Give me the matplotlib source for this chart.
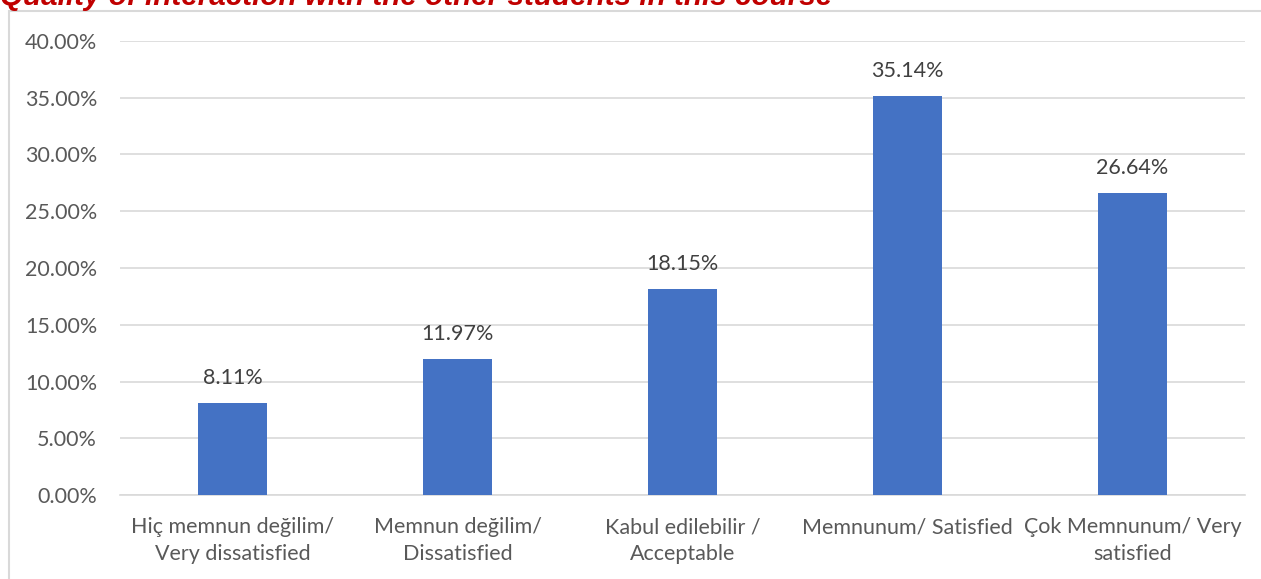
import matplotlib.pyplot as plt
from matplotlib.patches import Rectangle
from matplotlib.ticker import FuncFormatter

categories = ["Hiç memnun değilim/\nVery dissatisfied",
              "Memnun değilim/\nDissatisfied",
              "Kabul edilebilir /\nAcceptable",
              "Memnunum/ Satisfied",
              "Çok Memnunum/ Very\nsatisfied"]
values = [8.11, 11.97, 18.15, 35.14, 26.64]
title = "Quality of interaction with the other students in this course"

plt.rcParams['font.family'] = ['Lato', 'DejaVu Sans']

fig = plt.figure(figsize=(12.61, 5.79), dpi=100)
W, H = 1261, 579

# outer chart frame, cropped at bottom and right
fig.patches.append(Rectangle((9 / W, -0.1), 1.2, 1.1 - 11 / H, transform=fig.transFigure,
                             fill=False, edgecolor='#d9d9d9', linewidth=1.5))

ax = fig.add_axes([120 / W, 1 - 495 / H, 1125 / W, 454 / H])
x = range(len(categories))
ax.bar(x, values, width=0.31, color='#4472c4', zorder=3)
for i, v in enumerate(values):
    ax.text(i, v + 1.67, f"{v:.2f}%", ha='center', va='baseline', fontsize=15.5, color='#404040')

ax.set_xlim(-0.5, len(categories) - 0.5)
ax.set_ylim(0, 40)
ax.set_yticks(range(0, 41, 5))
ax.yaxis.set_major_formatter(FuncFormatter(lambda v, p: f"{v:.2f}%"))
ax.set_xticks(list(x))
ax.set_xticklabels(categories, fontsize=15.5, color='#595959', linespacing=1.45)
ax.tick_params(axis='y', labelsize=15.5, labelcolor='#595959', length=0, pad=16.5)
ax.tick_params(axis='x', length=0, pad=16)
ax.grid(axis='y', color='#d9d9d9', linewidth=1.2, zorder=0)
for s in ['top', 'right', 'left']:
    ax.spines[s].set_visible(False)
ax.spines['bottom'].set_color('#d9d9d9')
ax.spines['bottom'].set_linewidth(1.2)

fig.text(0, 1 - 5 / H, title, ha='left', va='baseline', fontsize=21.3, color='#c00000',
         fontweight='bold', fontstyle='italic', family='Liberation Sans')

fig.savefig('out.png', dpi=100)
